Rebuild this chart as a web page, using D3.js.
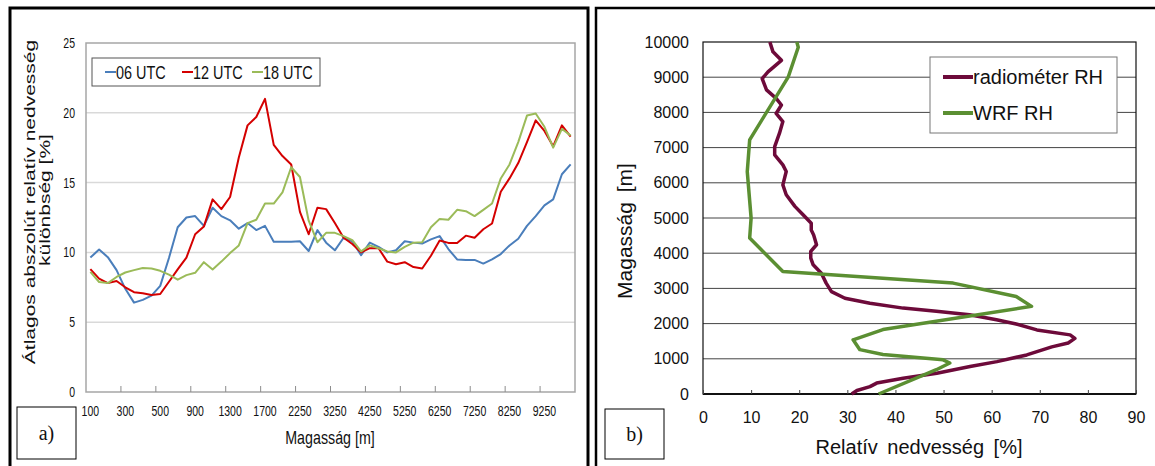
<!DOCTYPE html>
<html>
<head>
<meta charset="utf-8">
<script src="https://cdn.jsdelivr.net/npm/d3@7"></script>
<style>
  body { margin: 0; background: #fff; }
  svg { display: block; }
  text { font-family: "Liberation Sans", Arial, sans-serif; fill: #111; }
  .serif { font-family: "Liberation Serif", "Times New Roman", serif; }
</style>
</head>
<body>
<svg id="chart" width="1155" height="466"></svg>
<script>
// ---- a) panel: átlagos abszolút különbség, kategória tengely (magasság)
const magassagA = [100, 150, 200, 250, 300, 350, 400, 450, 500,
  600, 700, 800, 900, 1000, 1100, 1200, 1300, 1400, 1500, 1600, 1700, 1800, 1900, 2000,
  2250, 2500, 2750, 3000, 3250, 3500, 3750, 4000, 4250, 4500, 4750, 5000, 5250, 5500, 5750,
  6000, 6250, 6500, 6750, 7000, 7250, 7500, 7750, 8000, 8250, 8500, 8750, 9000, 9250,
  9500, 9750, 10000];
const utc06 = [9.63, 10.2, 9.66, 8.73, 7.39, 6.4, 6.6, 6.9, 7.6, 9.6, 11.8, 12.5, 12.6, 11.9, 13.2, 12.6, 12.3, 11.7, 12.1,
  11.6, 11.9, 10.76, 10.76, 10.76, 10.8, 10.1, 11.6, 10.7, 10.15, 11.05, 10.8, 9.8, 10.7, 10.4, 10.0, 10.15, 10.8, 10.7,
  10.63, 10.93, 11.17, 10.24, 9.5, 9.46, 9.46, 9.2, 9.5, 9.88, 10.5, 10.98, 11.9, 12.6, 13.37, 13.8, 15.6, 16.3];
const utc12 = [8.8, 8.12, 7.8, 7.95, 7.5, 7.15, 7.07, 6.95, 7.02, 7.9, 8.78, 9.63, 11.3, 11.85, 13.8, 13.1, 13.97, 16.8, 19.1,
  19.7, 21.0, 17.7, 16.9, 16.3, 12.9, 11.3, 13.2, 13.1, 12.1, 11.05, 10.6, 10.0, 10.3, 10.3, 9.34, 9.15, 9.3, 8.95,
  8.85, 9.76, 10.85, 10.68, 10.68, 11.2, 11.05, 11.66, 12.07, 14.34, 15.3, 16.4, 17.9, 19.46, 18.7, 17.6, 19.1, 18.3];
const utc18 = [8.6, 7.88, 7.8, 8.24, 8.56, 8.73, 8.88, 8.85, 8.68, 8.41, 8.05, 8.37, 8.54, 9.3, 8.78, 9.34, 9.95, 10.5, 12.1,
  12.34, 13.5, 13.5, 14.3, 16.1, 15.4, 12.27, 10.73, 11.4, 11.4, 11.17, 10.88, 10.07, 10.5, 10.3, 10.07, 10.0, 10.4, 10.7,
  10.73, 11.8, 12.4, 12.34, 13.05, 12.95, 12.6, 13.05, 13.5, 15.3, 16.3, 17.9, 19.8, 19.95, 19.0, 17.5, 18.85, 18.37];
const seriesA = ["06 UTC", "12 UTC", "18 UTC"];
const yTicksA = [0, 5, 10, 15, 20, 25];

// ---- b) panel: relatív nedvesség profil
const rhRadiometer = [30.9, 32.0, 34.7, 36.1, 41.6, 48.6, 55.5, 61.1, 67.3, 72.5, 75.9, 77.3, 76.3, 69.4, 65.1, 61, 55.4,
  48.5, 41.6, 34.7, 29.5, 26.7, 25.6, 24.6, 22.9, 22.4, 22.4, 23.6, 23.0, 22.5, 22.5, 20.8, 19.1, 17.3, 16.6, 17.3, 16.6,
  14.9, 14.9, 15.9, 16.6, 15.2, 16.3, 15.2, 13.2, 12.3, 13.5, 16.3, 14.55, 13.9];
const hRadiometer = [0, 100, 210, 310, 450, 590, 780, 920, 1110, 1340, 1450, 1580, 1680, 1820, 1990, 2110, 2250,
  2350, 2440, 2580, 2720, 2910, 3150, 3430, 3670, 3860, 4050, 4240, 4520, 4660, 4850, 5090, 5330, 5660, 5940, 6320, 6510,
  6790, 7030, 7410, 7740, 7970, 8210, 8400, 8640, 8960, 9150, 9480, 9720, 10000];
const rhWrf = [36.5, 48.5, 51.3, 49.9, 37.4, 32.6, 31.2, 37.4, 68.3, 65.1, 52, 16.6, 9.7, 10.0, 9.2, 9.7, 17.7, 19.8, 19.5];
const hWrf = [0, 690, 880, 970, 1120, 1260, 1540, 1830, 2490, 2770, 3150, 3480, 4430, 5000, 6320, 7220, 9000, 9850, 10000];
const seriesB = ["radiométer RH", "WRF RH"];
const xTicksB = [0, 10, 20, 30, 40, 50, 60, 70, 80, 90];
const yTicksB = [0, 1000, 2000, 3000, 4000, 5000, 6000, 7000, 8000, 9000, 10000];

const ColorsA = ["#4a7ebb", "#d40000", "#9bbb59"];
const ColorsB = ["#6d0a3a", "#5b8f32"];

const svg = d3.select("#chart");

// nincs keskeny betűtípus, ezért összenyomjuk a szöveget
function narrow(sel, f) {
  sel.each(function () {
    const l = this.getComputedTextLength();
    d3.select(this).attr("textLength", l * f).attr("lengthAdjust", "spacingAndGlyphs");
  });
}

// keretek
svg.append("rect").attr("x", 10).attr("y", 8).attr("width", 578).attr("height", 520)
  .attr("fill", "none").attr("stroke", "#000").attr("stroke-width", 3);
svg.append("rect").attr("x", 596).attr("y", 8).attr("width", 600).attr("height", 520)
  .attr("fill", "none").attr("stroke", "#000").attr("stroke-width", 2.5);

// ================= a) =================
const xA = d3.scaleBand().domain(magassagA).range([86, 575]);
const yA = d3.scaleLinear().domain([0, 25]).range([392, 43]);
const bw = xA.bandwidth();

const gA = svg.append("g");

// rácsvonalak
gA.selectAll("line.grid").data(yTicksA.slice(1, -1)).join("line")
  .attr("x1", 86).attr("x2", 575).attr("y1", d => yA(d)).attr("y2", d => yA(d))
  .attr("stroke", "#d9d9d9").attr("stroke-width", 1.5);

gA.append("rect").attr("x", 86).attr("y", yA(25)).attr("width", 489).attr("height", yA(0) - yA(25))
  .attr("fill", "none").attr("stroke", "#a6a6a6").attr("stroke-width", 1.5);

// x tengely feliratok minden 4. kategórián
const labelled = magassagA.filter((d, i) => i % 4 === 0);
const axA = gA.append("g").attr("transform", `translate(0,${yA(0)})`)
  .call(d3.axisBottom(xA).tickValues(labelled).tickSize(0).tickPadding(14));
axA.select(".domain").remove();
axA.selectAll("text").style("font-size", "14px").attr("fill", "#222").call(narrow, 0.75);

// osztásjelek a kategória határokon
gA.selectAll("line.tick").data(labelled.slice(1)).join("line")
  .attr("x1", d => xA(d)).attr("x2", d => xA(d))
  .attr("y1", yA(0)).attr("y2", yA(0) - 6)
  .attr("stroke", "#8c8c8c").attr("stroke-width", 1);

const ayA = gA.append("g").attr("transform", "translate(86,0)")
  .call(d3.axisLeft(yA).tickValues(yTicksA).tickSize(0).tickPadding(11));
ayA.select(".domain").remove();
ayA.selectAll("text").style("font-size", "14px").attr("fill", "#222").call(narrow, 0.75);

// vonalak
const lineA = d3.line().x((d, i) => xA(magassagA[i]) + bw / 2).y(d => yA(d));
[utc06, utc12, utc18].forEach((s, k) => {
  gA.append("path").datum(s).attr("d", lineA)
    .attr("fill", "none").attr("stroke", ColorsA[k]).attr("stroke-width", 2).attr("stroke-linejoin", "round");
});

// jelmagyarázat
gA.append("rect").attr("x", 92).attr("y", 58).attr("width", 228).attr("height", 28)
  .attr("fill", "#fff").attr("stroke", "#555").attr("stroke-width", 1);
const legAx = [105, 182, 252];
seriesA.forEach((name, k) => {
  gA.append("line").attr("x1", legAx[k]).attr("x2", legAx[k] + 11).attr("y1", 72).attr("y2", 72)
    .attr("stroke", ColorsA[k]).attr("stroke-width", 2);
  gA.append("text").attr("x", legAx[k] + 11).attr("y", 79)
    .style("font-size", "19px").text(name).call(narrow, 0.76);
});

// tengelycímek
gA.append("text").attr("x", 330).attr("y", 444).attr("text-anchor", "middle")
  .style("font-size", "19px").text("Magasság [m]").call(narrow, 0.75);
gA.append("text").attr("transform", "translate(35,202) rotate(-90) scale(1.4,1)")
  .attr("text-anchor", "middle").style("font-size", "15px").text("Átlagos abszolút relatív nedvesség");
gA.append("text").attr("transform", "translate(50,200) rotate(-90) scale(1.4,1)")
  .attr("text-anchor", "middle").style("font-size", "15px").text("különbség [%]");

// a) címke
gA.append("rect").attr("x", 17).attr("y", 407).attr("width", 59).attr("height", 52)
  .attr("fill", "#fff").attr("stroke", "#000").attr("stroke-width", 1);
gA.append("text").attr("class", "serif").attr("x", 46.5).attr("y", 440).attr("text-anchor", "middle")
  .style("font-size", "20px").text("a)");

// ================= b) =================
const xB = d3.scaleLinear().domain([0, 90]).range([703, 1136]);
const yB = d3.scaleLinear().domain([0, 10000]).range([394, 42]);
const gB = svg.append("g");

gB.selectAll("line.grid").data(yTicksB.slice(1, -1)).join("line")
  .attr("x1", xB(0)).attr("x2", xB(90)).attr("y1", d => yB(d)).attr("y2", d => yB(d))
  .attr("stroke", "#444").attr("stroke-width", 1);

gB.append("rect").attr("x", xB(0)).attr("y", yB(10000)).attr("width", xB(90) - xB(0)).attr("height", yB(0) - yB(10000))
  .attr("fill", "none").attr("stroke", "#111").attr("stroke-width", 1.2);
gB.append("line").attr("x1", xB(0)).attr("x2", xB(90)).attr("y1", yB(0)).attr("y2", yB(0))
  .attr("stroke", "#111").attr("stroke-width", 2);

const axB = gB.append("g").attr("transform", `translate(0,${yB(0)})`)
  .call(d3.axisBottom(xB).tickValues(xTicksB).tickSize(-4).tickPadding(18));
axB.select(".domain").remove();
axB.selectAll("line").attr("stroke", "#444");
axB.selectAll("text").style("font-size", "16px").attr("fill", "#222");

const ayB = gB.append("g").attr("transform", `translate(${xB(0)},0)`)
  .call(d3.axisLeft(yB).tickValues(yTicksB).tickFormat(d3.format("d")).tickSize(0).tickPadding(14));
ayB.select(".domain").remove();
ayB.selectAll("text").style("font-size", "16px").attr("fill", "#222");

const lineB = d3.line().x(d => xB(d[0])).y(d => yB(d[1]));
gB.append("path").datum(rhRadiometer.map((v, i) => [v, hRadiometer[i]])).attr("d", lineB)
  .attr("fill", "none").attr("stroke", ColorsB[0]).attr("stroke-width", 3.5).attr("stroke-linejoin", "round");
gB.append("path").datum(rhWrf.map((v, i) => [v, hWrf[i]])).attr("d", lineB)
  .attr("fill", "none").attr("stroke", ColorsB[1]).attr("stroke-width", 3.5).attr("stroke-linejoin", "round");

// jelmagyarázat
gB.append("rect").attr("x", 930).attr("y", 57).attr("width", 187).attr("height", 76)
  .attr("fill", "#fff").attr("stroke", "#777").attr("stroke-width", 1);
seriesB.forEach((name, k) => {
  const yy = 77 + k * 36;
  gB.append("line").attr("x1", 943).attr("x2", 973).attr("y1", yy).attr("y2", yy)
    .attr("stroke", ColorsB[k]).attr("stroke-width", 4);
  gB.append("text").attr("x", 973).attr("y", yy + 7).style("font-size", "20px").text(name);
});

gB.append("text").attr("x", 919).attr("y", 454).attr("text-anchor", "middle")
  .style("font-size", "20px").style("word-spacing", "4px").text("Relatív nedvesség [%]");
gB.append("text").attr("transform", "translate(632,231) rotate(-90)").attr("text-anchor", "middle")
  .style("font-size", "21px").style("word-spacing", "4px").text("Magasság [m]");

// b) címke
gB.append("rect").attr("x", 605).attr("y", 409).attr("width", 59).attr("height", 50)
  .attr("fill", "#fff").attr("stroke", "#000").attr("stroke-width", 1);
gB.append("text").attr("class", "serif").attr("x", 634.5).attr("y", 441).attr("text-anchor", "middle")
  .style("font-size", "20px").text("b)");
</script>
</body>
</html>
